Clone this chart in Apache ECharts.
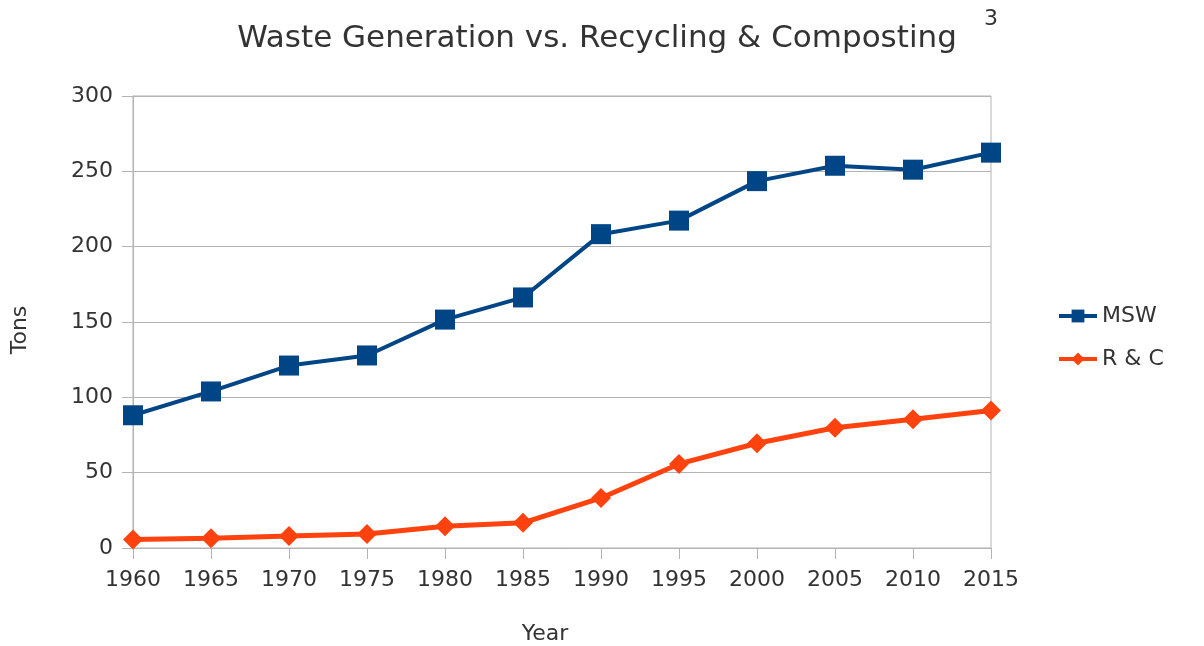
<!DOCTYPE html>
<html>
<head>
<meta charset="utf-8">
<script src="https://cdn.jsdelivr.net/npm/echarts@6/dist/echarts.min.js"></script>
<style>
  html, body { margin: 0; padding: 0; background: #fff; }
  #chart { width: 1204px; height: 646px; }
</style>
</head>
<body>
<div id="chart"></div>
<script>
// Municipal solid waste generated vs. recycled & composted (tons)
const years = ['1960', '1965', '1970', '1975', '1980', '1985', '1990', '1995', '2000', '2005', '2010', '2015'];
const msw = [88.1, 103.9, 121.1, 127.8, 151.6, 166.3, 208.3, 217.3, 243.5, 253.7, 251.1, 262.4];
const recycling = [5.6, 6.5, 8.0, 9.3, 14.5, 16.7, 33.2, 55.8, 69.5, 79.8, 85.4, 91.2];

const FONT = '"DejaVu Sans", "Liberation Sans", Arial, sans-serif';
const TEXT = '#333333';
const GRID_LINE = '#b3b3b3';
const BLUE = '#004586';
const ORANGE = '#ff420e';

const chart = echarts.init(document.getElementById('chart'));
chart.setOption({
  backgroundColor: '#ffffff',
  textStyle: { fontFamily: FONT },
  title: {
    text: 'Waste Generation vs. Recycling & Composting',
    left: 592,
    top: 18,
    textAlign: 'center',
    textStyle: { fontFamily: FONT, fontSize: 31, fontWeight: 'normal', color: TEXT }
  },
  graphic: [
    {
      type: 'text',
      left: 984,
      top: 8,
      style: { text: '3', fontFamily: FONT, fontSize: 22, fill: TEXT }
    },
    {
      // x-axis title
      type: 'text',
      x: 545,
      y: 634,
      style: { text: 'Year', fontFamily: FONT, fontSize: 22, fill: TEXT, align: 'center', verticalAlign: 'middle' }
    },
    {
      // y-axis title
      type: 'text',
      x: 20,
      y: 330,
      rotation: Math.PI / 2,
      style: { text: 'Tons', fontFamily: FONT, fontSize: 22, fill: TEXT, align: 'center', verticalAlign: 'middle' }
    }
  ],
  legend: {
    orient: 'vertical',
    left: 1052,
    top: 300,
    itemWidth: 38,
    itemHeight: 16,
    itemGap: 21,
    lineStyle: { width: 4 },
    textStyle: { fontFamily: FONT, fontSize: 22, color: TEXT },
    data: ['MSW', 'R & C']
  },
  grid: {
    left: 133,
    right: 213,
    top: 96,
    bottom: 98,
    show: true,
    borderColor: GRID_LINE,
    borderWidth: 1
  },
  xAxis: {
    type: 'category',
    data: years,
    boundaryGap: false,
    axisLine: { lineStyle: { color: GRID_LINE, width: 1 } },
    axisTick: { show: true, length: 11, lineStyle: { color: GRID_LINE, width: 1 } },
    axisLabel: { fontFamily: FONT, fontSize: 22, color: TEXT, margin: 21 }
  },
  yAxis: {
    type: 'value',
    min: 0,
    max: 300,
    interval: 50,
    axisLine: { show: true, lineStyle: { color: GRID_LINE, width: 1 } },
    axisTick: { show: true, length: 11, lineStyle: { color: GRID_LINE, width: 1 } },
    splitLine: { lineStyle: { color: GRID_LINE, width: 1 } },
    axisLabel: { fontFamily: FONT, fontSize: 22, color: TEXT, margin: 20 }
  },
  series: [
    {
      name: 'MSW',
      type: 'line',
      data: msw,
      color: BLUE,
      symbol: 'rect',
      symbolSize: 20,
      lineStyle: { width: 4, color: BLUE },
      itemStyle: { color: BLUE },
      animation: false
    },
    {
      name: 'R & C',
      type: 'line',
      data: recycling,
      color: ORANGE,
      symbol: 'diamond',
      symbolSize: 20,
      lineStyle: { width: 5, color: ORANGE },
      itemStyle: { color: ORANGE },
      animation: false
    }
  ]
});
</script>
</body>
</html>
